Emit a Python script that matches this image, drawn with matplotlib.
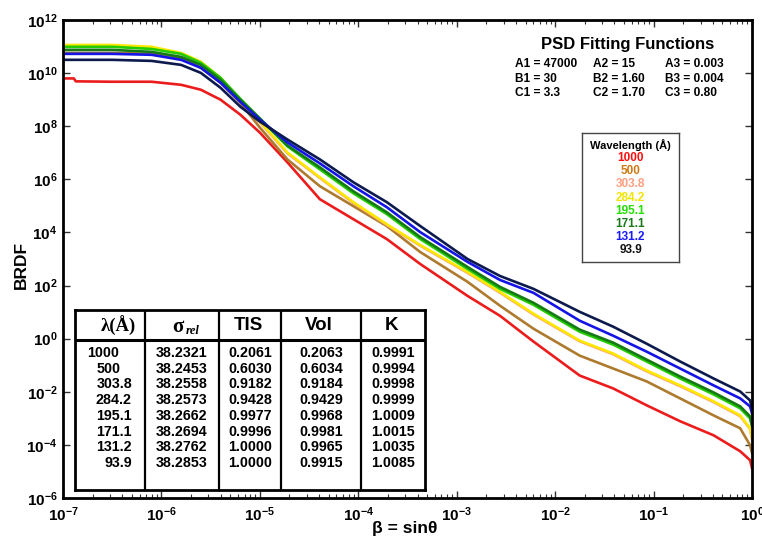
import numpy as np
import matplotlib
matplotlib.use("Agg")
import matplotlib.pyplot as plt
from matplotlib import font_manager
from matplotlib.ticker import FixedLocator, FuncFormatter, LogLocator, NullFormatter, NullLocator


def first_bold_family(candidates):
    bold = {f.name for f in font_manager.fontManager.ttflist
            if str(f.weight) in ("600", "700", "800", "900", "bold", "semibold", "heavy", "black")}
    for name in candidates:
        if name in bold:
            return name
    return candidates[-1]


SANS = first_bold_family(["Liberation Sans", "Arimo", "Roboto", "Noto Sans", "Open Sans", "Lato", "Inter", "DejaVu Sans"])
SERIF = first_bold_family(["Liberation Serif", "Tinos", "Noto Serif", "DejaVu Serif"])

plt.rcParams["font.family"] = [SANS, "DejaVu Sans"]
plt.rcParams["font.weight"] = "bold"
plt.rcParams["mathtext.fontset"] = "custom"
plt.rcParams["mathtext.rm"] = SANS + ":bold"
plt.rcParams["mathtext.bf"] = SANS + ":bold"
plt.rcParams["mathtext.it"] = SANS + ":bold:italic"

# ---- curve data: log10(beta) and log10(BRDF) ----
log_beta = [-7.0, -6.5, -6.1, -5.8, -5.6, -5.4, -5.2, -5.0, -4.72, -4.39, -4.05, -3.71,
            -3.37, -2.89, -2.56, -2.22, -1.75, -1.41, -1.07, -0.73, -0.39, -0.12, -0.02, 0.0]
red_log_beta = [-7.0, -6.89, -6.87] + log_beta[1:]

brdf_1000 = [9.80, 9.80, 9.69, 9.675, 9.675, 9.56, 9.375, 9.00, 8.44, 7.76, 6.64, 5.25, 4.50, 3.75,
             2.81, 1.61, 0.86, -0.11, -1.39, -1.875, -2.51, -3.11, -3.64, -4.24, -4.575, -4.875]
brdf_500 = [10.76, 10.76, 10.73, 10.575, 10.20, 9.64, 8.89, 7.95, 6.75, 5.74, 4.99, 4.24,
            3.26, 2.14, 1.24, 0.375, -0.64, -1.125, -1.61, -2.25, -2.89, -3.375, -4.01, -4.31]
brdf_303 = [11.03, 11.03, 10.96, 10.73, 10.40, 9.80, 8.98, 8.15, 6.98, 6.05, 5.11, 4.28,
            3.50, 2.48, 1.73, 0.91, -0.10, -0.59, -1.23, -1.79, -2.39, -2.92, -3.40, -3.78]
brdf_284 = [11.06, 11.06, 10.99, 10.76, 10.43, 9.825, 9.00, 8.175, 7.01, 6.075, 5.14, 4.31,
            3.525, 2.51, 1.76, 0.94, -0.075, -0.56, -1.20, -1.76, -2.36, -2.89, -3.375, -3.75]
brdf_195 = [10.99, 10.99, 10.91, 10.725, 10.39, 9.825, 9.04, 8.29, 7.24, 6.375, 5.475, 4.69,
            3.75, 2.625, 1.875, 1.275, 0.26, -0.225, -0.86, -1.50, -2.10, -2.625, -3.00, -3.30]
brdf_171 = [10.875, 10.875, 10.80, 10.61, 10.31, 9.75, 9.00, 8.29, 7.275, 6.45, 5.55, 4.76,
            3.825, 2.70, 1.95, 1.35, 0.34, -0.15, -0.79, -1.425, -2.025, -2.55, -2.925, -3.26]
brdf_131 = [10.725, 10.725, 10.69, 10.50, 10.20, 9.64, 8.925, 8.25, 7.39, 6.60, 5.74, 4.95,
            4.01, 2.89, 2.21, 1.725, 0.675, 0.11, -0.49, -1.125, -1.76, -2.25, -2.55, -2.81]
brdf_94 = [10.50, 10.50, 10.46, 10.31, 10.01, 9.45, 8.74, 8.175, 7.50, 6.75, 5.89, 5.14,
           4.24, 3.00, 2.36, 1.875, 1.01, 0.45, -0.19, -0.86, -1.50, -1.99, -2.325, -2.625]

wavelengths = ["1000", "500", "303.8", "284.2", "195.1", "171.1", "131.2", "93.9"]
line_colors = ["#ec1c1c", "#ad7a2e", "#ff9e7a", "#ffe800", "#22cc00", "#157a15", "#1414e6", "#0c1a4e"]
label_colors = ["#ff1010", "#cc7a14", "#ff9f80", "#f0e400", "#22e000", "#1a7a1a", "#1a1aff", "#111111"]
curves = [brdf_1000, brdf_500, brdf_303, brdf_284, brdf_195, brdf_171, brdf_131, brdf_94]

# ---- table data ----
table_header = ["λ(Å)", "σ", "TIS", "Vol", "K"]
sigma_rel = ["38.2321", "38.2453", "38.2558", "38.2573", "38.2662", "38.2694", "38.2762", "38.2853"]
tis = ["0.2061", "0.6030", "0.9182", "0.9428", "0.9977", "0.9996", "1.0000", "1.0000"]
vol = ["0.2063", "0.6034", "0.9184", "0.9429", "0.9968", "0.9981", "0.9965", "0.9915"]
k_factor = ["0.9991", "0.9994", "0.9998", "0.9999", "1.0009", "1.0015", "1.0035", "1.0085"]

psd_params = [["A1 = 47000", "A2 = 15", "A3 = 0.003"],
              ["B1 = 30", "B2 = 1.60", "B3 = 0.004"],
              ["C1 = 3.3", "C2 = 1.70", "C3 = 0.80"]]

W, H = 762, 541


def fx(x):
    return x / W


def fy(y):
    return 1 - y / H


fig = plt.figure(figsize=(W / 100, H / 100), dpi=100)
ax = fig.add_axes([fx(63), fy(498), (752 - 63) / W, (498 - 20) / H])

for i, (vals, color) in enumerate(zip(curves, line_colors)):
    xs = red_log_beta if i == 0 else log_beta
    ax.plot(10.0 ** np.array(xs), 10.0 ** np.array(vals), color=color, lw=1.9)

ax.set_xscale("log")
ax.set_yscale("log")
ax.set_xlim(1e-7, 1)
ax.set_ylim(1e-6, 1e12)

ax.yaxis.set_major_locator(FixedLocator(10.0 ** np.arange(-6, 13, 2)))
ax.yaxis.set_minor_locator(NullLocator())
ax.xaxis.set_major_locator(LogLocator(base=10, numticks=20))
ax.xaxis.set_minor_locator(LogLocator(base=10, subs=np.arange(2, 10), numticks=20))
ax.xaxis.set_minor_formatter(NullFormatter())
fmt = FuncFormatter(lambda v, pos: r"$\mathbf{10^{%d}}$" % round(np.log10(v)))
ax.xaxis.set_major_formatter(fmt)
ax.yaxis.set_major_formatter(fmt)
ax.tick_params(which="both", direction="in", top=True, right=True, color="#333333")
ax.tick_params(which="major", length=5, width=1, labelsize=11)
ax.tick_params(axis="x", which="major", pad=5)
ax.tick_params(axis="y", which="major", pad=4)
ax.tick_params(which="minor", length=3, width=0.8)
for s in ax.spines.values():
    s.set_linewidth(2)

fig.text(fx(21), fy(265), "BRDF", rotation=90, ha="center", va="center", fontsize=12.5, fontweight="bold")
fig.text(fx(405), fy(528), "β = sinθ", ha="center", va="center", fontsize=12.5, fontweight="bold")

# ---- PSD fitting functions text ----
fig.text(fx(628), fy(45), "PSD Fitting Functions", ha="center", va="center", fontsize=12, fontweight="bold")
for row, y in zip(psd_params, [64, 79, 93]):
    for txt, x in zip(row, [515, 593, 665]):
        fig.text(fx(x), fy(y), txt, ha="left", va="center", fontsize=8.6, fontweight="bold")

# ---- wavelength legend box ----
lax = fig.add_axes([fx(582), fy(262), (679 - 582) / W, (262 - 133) / H])
lax.set_xlim(582, 679)
lax.set_ylim(262, 133)
lax.set_xticks([])
lax.set_yticks([])
for s in lax.spines.values():
    s.set_linewidth(1.0)
    s.set_color("#444444")
lax.text(630.5, 145, "Wavelength (Å)", ha="center", va="center", fontsize=8, fontweight="bold")
for i, (wl, c) in enumerate(zip(wavelengths, label_colors)):
    lax.text(630.5, 158 + i * 13.2, wl, ha="center", va="center", fontsize=8.5, fontweight="bold", color=c)

# ---- data table ----
tax = fig.add_axes([fx(75), fy(490), (425 - 75) / W, (490 - 310) / H])
tax.set_xlim(75, 425)
tax.set_ylim(490, 310)
tax.set_xticks([])
tax.set_yticks([])
for s in tax.spines.values():
    s.set_linewidth(2)
col_edges = [75, 145, 219, 281, 361, 425]
for x in col_edges[1:-1]:
    tax.plot([x, x], [310, 490], color="black", lw=1.6)
tax.plot([75, 425], [340, 340], color="black", lw=2.2)

centers = [(a + b) / 2 for a, b in zip(col_edges[:-1], col_edges[1:])]
tax.text(118, 326, table_header[0], ha="center", va="center", fontsize=13.5,
         fontweight="bold", family=[SERIF, "DejaVu Serif"])
tax.text(178, 327, table_header[1], ha="center", va="center", fontsize=15,
         fontweight="bold", family=[SERIF, "DejaVu Serif"])
tax.text(186, 331, "rel", ha="left", va="center", fontsize=9, fontweight="bold",
         style="italic", family=[SERIF, "DejaVu Serif"])
for head, cx in zip(table_header[2:], centers[2:]):
    tax.text(cx - 2, 326, head, ha="center", va="center", fontsize=13.5, fontweight="bold")

row_y = [353 + i * 15.7 for i in range(len(wavelengths))]
for i, y in enumerate(row_y):
    wl = wavelengths[i]
    if wl == "1000":
        tax.text(87, y, wl, ha="left", va="center", fontsize=10.3, fontweight="bold")
    elif wl == "500":
        tax.text(97, y, wl, ha="left", va="center", fontsize=10.3, fontweight="bold")
    else:
        tax.text(132, y, wl, ha="right", va="center", fontsize=10.3, fontweight="bold")
    for col, cx in zip([sigma_rel, tis, vol, k_factor], centers[1:]):
        tax.text(cx, y, col[i], ha="center", va="center", fontsize=10.3, fontweight="bold")

fig.savefig("out.png", dpi=100)
